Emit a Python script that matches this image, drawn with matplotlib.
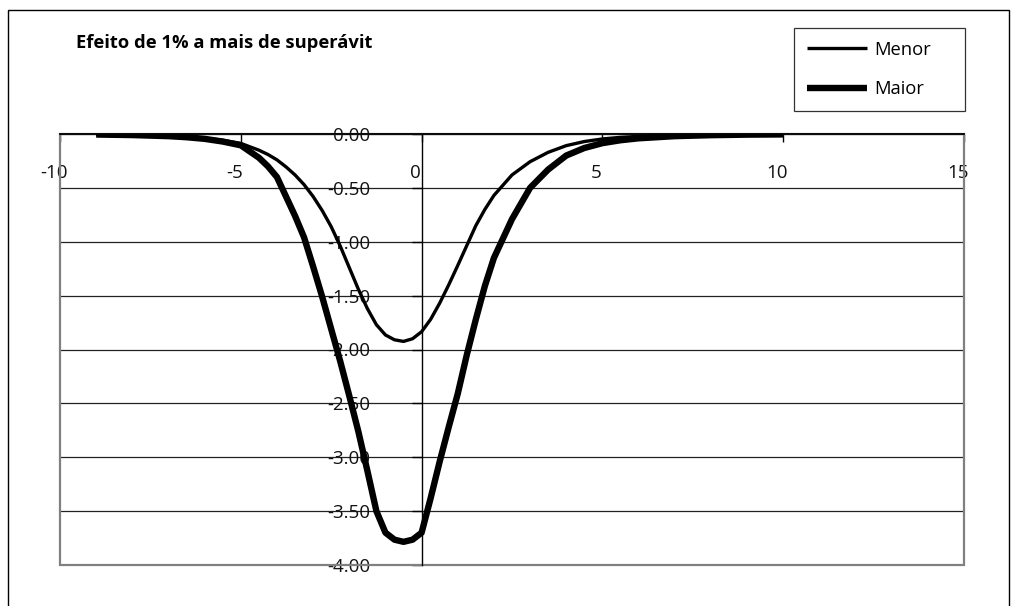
import matplotlib
matplotlib.use("Agg")
import matplotlib.pyplot as plt
from matplotlib.patches import Rectangle
from matplotlib.transforms import ScaledTranslation

plt.rcParams['font.family'] = ['Open Sans', 'DejaVu Sans']
plt.rcParams['axes.unicode_minus'] = False

title = "Efeito de 1% a mais de superávit"
series_names = ["Menor", "Maior"]

x_vals = [-9, -8, -7, -6.5, -6, -5.5, -5, -4.5, -4.25, -4, -3.75, -3.5, -3.25,
          -3, -2.75, -2.5, -2.25, -2, -1.75, -1.5, -1.25, -1, -0.75, -0.5,
          -0.25, 0, 0.25, 0.5, 0.75, 1, 1.25, 1.5, 1.75, 2, 2.5, 3, 3.5,
          4, 4.5, 5, 5.5, 6, 7, 8, 9, 10]
menor = [-0.003, -0.007, -0.016, -0.025, -0.038, -0.058, -0.087, -0.15, -0.19,
         -0.24, -0.305, -0.38, -0.47, -0.58, -0.71, -0.86, -1.04, -1.24, -1.44,
         -1.62, -1.77, -1.865, -1.91, -1.925, -1.90, -1.835,
         -1.72, -1.57, -1.40, -1.22, -1.035, -0.85, -0.70, -0.57, -0.38, -0.257,
         -0.17, -0.108, -0.07, -0.046, -0.031, -0.022, -0.011, -0.006, -0.003,
         -0.002]
maior = [-0.005, -0.01, -0.02, -0.03, -0.045, -0.07, -0.105, -0.22, -0.30,
         -0.40, -0.58, -0.76, -0.96, -1.23, -1.51, -1.81, -2.11, -2.43, -2.76,
         -3.125, -3.50, -3.70, -3.765, -3.785, -3.765, -3.70,
         -3.38, -3.04, -2.72, -2.41, -2.05, -1.72, -1.41, -1.15, -0.79, -0.50,
         -0.33, -0.20, -0.13, -0.085, -0.058, -0.04, -0.02, -0.011, -0.006,
         -0.004]

x_ticks = [-10, -5, 0, 5, 10, 15]
x_tick_labels = ['-10', '-5', '0', '5', '10', '15']
y_ticks = [0, -0.5, -1.0, -1.5, -2.0, -2.5, -3.0, -3.5, -4.0]
y_tick_labels = ['0.00', '-0.50', '-1.00', '-1.50', '-2.00', '-2.50', '-3.00', '-3.50', '-4.00']

W, H = 1017, 606
fig = plt.figure(figsize=(W / 100, H / 100), dpi=100)

# outer chart border
fig.patches.append(Rectangle((8 / W, 1 - 612 / H), (1009 - 8) / W, (612 - 10) / H,
                             transform=fig.transFigure, fill=False, ec='black', lw=1.0))

L, R, T, B = 60, 964, 134, 565
ax = fig.add_axes([L / W, 1 - B / H, (R - L) / W, (B - T) / H])
ax.set_xlim(-10, 15)
ax.set_ylim(-4, 0)

# plot area frame (gray)
ax.add_patch(Rectangle((0, 0), 1, 1, transform=ax.transAxes, fill=False,
                       ec='#808080', lw=1.6, clip_on=False, zorder=1))

ax.spines['top'].set_visible(False)
ax.spines['right'].set_visible(False)
ax.spines['bottom'].set_position(('data', 0))
ax.spines['left'].set_position(('data', 0))
ax.spines['bottom'].set_color('black')
ax.spines['bottom'].set_linewidth(1.3)
ax.spines['bottom'].set_zorder(3)
ax.spines['left'].set_color('black')
ax.spines['left'].set_linewidth(1.0)

ax.set_xticks(x_ticks)
ax.set_xticklabels(x_tick_labels)
ax.set_yticks(y_ticks)
ax.set_yticklabels(y_tick_labels)

ax.tick_params(axis='x', direction='out', length=5.8, width=1.0, pad=16,
               labelsize=13.5, colors='black', labelcolor='#111111')
ax.tick_params(axis='y', direction='out', length=7.2, width=1.0, pad=30,
               labelsize=13.5, colors='black', labelcolor='#111111')

off = ScaledTranslation(-6 / 100, 0, fig.dpi_scale_trans)
for lab in ax.get_xticklabels():
    lab.set_transform(lab.get_transform() + off)

ax.yaxis.grid(True, color='#222222', lw=0.9)
ax.xaxis.grid(False)
ax.set_axisbelow(True)

ax.plot(x_vals, menor, color='black', lw=2.4, label=series_names[0],
        solid_capstyle='butt', solid_joinstyle='round', zorder=4)
ax.plot(x_vals, maior, color='black', lw=4.6, label=series_names[1],
        solid_capstyle='butt', solid_joinstyle='round', zorder=4)

fig.text(76 / W, 1 - 43 / H, title, fontsize=13.2, fontweight='bold',
         ha='left', va='center')

leg = ax.legend(loc='upper left',
                bbox_to_anchor=(794 / W, 1 - 109 / H, 171 / W, 81 / H),
                bbox_transform=fig.transFigure, borderaxespad=0, mode='expand',
                frameon=True, fancybox=False, fontsize=13.2,
                handlelength=3.3, handletextpad=0.35, labelspacing=1.15,
                borderpad=0.7)
leg.get_frame().set_edgecolor('black')
leg.get_frame().set_linewidth(0.9)

fig.savefig('out.png', dpi=100)
